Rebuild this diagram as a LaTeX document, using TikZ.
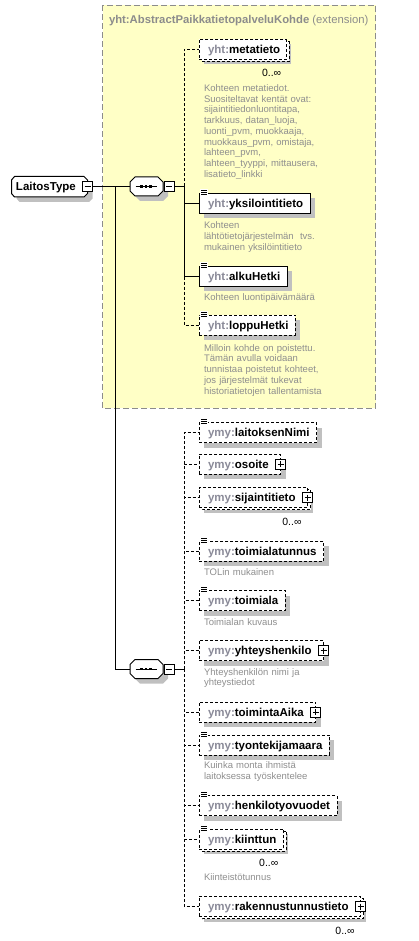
\documentclass[tikz,border=0pt]{standalone}
\usepackage{fontspec}
\setmainfont{Liberation Sans}
\usetikzlibrary{shadows}
\pgfdeclarelayer{bg}
\pgfdeclarelayer{back}
\pgfsetlayers{bg,back,main}
\definecolor{pre}{HTML}{8A8A98}
\definecolor{desc}{HTML}{8E8E8E}
\definecolor{ylw}{HTML}{FFFFC6}
\definecolor{ybord}{HTML}{8C8C8C}
\definecolor{shd}{HTML}{C0C0C0}
\newcommand\nmfont{\fontsize{11.5}{13}\selectfont\bfseries}
\newcommand\dsfont{\fontsize{9.5}{10.75}\selectfont}
\newcommand\elname[3]{\hspace*{9pt}{\color{pre}#1:}#2\hspace*{#3}}
\tikzset{
 every node/.style={inner sep=0pt, outer sep=0pt},
 conn/.style={line width=1pt},
 optl/.style={line width=1pt, dash pattern=on 3pt off 2pt},
 dsh/.style={dash pattern=on 3pt off 2pt},
 elem/.style={draw, line width=1pt, fill=white, minimum height=20pt, anchor=west, text height=10pt, text depth=1.8pt, font=\nmfont},
 shadowed/.style={drop shadow={shadow xshift=5pt, shadow yshift=-5pt, fill=shd, opacity=1}},
 desctext/.style={anchor=base west, text width=170pt, align=left, font=\dsfont, text=desc},
 mult/.style={anchor=base east, font=\fontsize{10.5}{12}\selectfont},
 pmbox/.style={draw, fill=white, line width=0.8pt, minimum size=10pt},
 plusbox/.style={pmbox, path picture={
   \draw[line width=0.8pt] ([xshift=2pt]path picture bounding box.west) -- ([xshift=-2pt]path picture bounding box.east);
   \draw[line width=0.8pt] ([yshift=-2pt]path picture bounding box.north) -- ([yshift=2pt]path picture bounding box.south);}},
 minusbox/.style={pmbox, path picture={
   \draw[line width=0.8pt] ([xshift=2pt]path picture bounding box.west) -- ([xshift=-2pt]path picture bounding box.east);}},
 seqbox/.style={minimum width=33pt, minimum height=19pt},
}
\newcommand\simpicon[1]{%
 \fill[white] ([shift={(1,-4)}]#1.north west) rectangle ([shift={(9,2)}]#1.north west);
 \foreach \dd in {-3,-1,1} {\draw[line width=0.6pt] ([shift={(2,\dd)}]#1.north west) -- ([shift={(8,\dd)}]#1.north west);}
}
\newcommand\multiback[1]{%
 \begin{pgfonlayer}{back}
 \fill[shd] ([shift={(5,5)}]#1.north west) rectangle ([shift={(5,5)}]#1.south east);
 \draw[line width=1pt, dsh, fill=white] ([shift={(3,2)}]#1.north west) rectangle ([shift={(3,2)}]#1.south east);
 \end{pgfonlayer}
}
\newcommand\seqshape[1]{%
 \filldraw[fill=white, line width=1pt, shadowed] ([shift={(5,0)}]#1.north west) -- ([shift={(-5,0)}]#1.north east) -- ([shift={(0,5)}]#1.north east) -- ([shift={(0,-5)}]#1.south east) -- ([shift={(-5,0)}]#1.south east) -- ([shift={(5,0)}]#1.south west) -- ([shift={(0,-5)}]#1.south west) -- ([shift={(0,5)}]#1.north west) -- cycle;
 \draw[line width=1pt] ([shift={(-11,0)}]#1.center) -- ([shift={(10,0)}]#1.center);
 \foreach \dd in {-4.8,-0.5,3.8} {\fill ([shift={(\dd-1.4,-1.4)}]#1.center) rectangle ([shift={(\dd+1.4,1.4)}]#1.center);}
}
\begin{document}
\begin{tikzpicture}[x=1pt,y=-1pt]
\useasboundingbox (0,0) rectangle (418,941);
\begin{pgfonlayer}{bg}
\draw[fill=ylw, draw=ybord, line width=1pt, dash pattern=on 6pt off 3pt] (102.5,5.5) rectangle (375.5,408);
\end{pgfonlayer}
\node[anchor=base west, font=\fontsize{11.3}{13}\selectfont, text=ybord] (title) at (109,23.3) {\textbf{yht:AbstractPaikkatietopalveluKohde} (extension)};

% root
\filldraw[fill=white, line width=1pt, shadowed] (14.5,176.5) -- (84,176.5) -- (87.5,180) -- (87.5,193.5) -- (84,197) -- (14.5,197) -- (11.5,193.5) -- (11.5,180) -- cycle;
\node[anchor=base west, font=\nmfont] (lt) at (16,190.5) {LaitosType};
\node[minusbox] (ltm) at (87.5,186.5) {};

% sequences
\node[seqbox] (seq1) at (146.5,186.5) {};
\seqshape{seq1}
\node[minusbox] (s1m) at (169.3,186.5) {};
\node[seqbox] (seq2) at (146.5,669) {};
\seqshape{seq2}
\node[minusbox] (s2m) at (169.3,669) {};
\coordinate (j1) at (115,186.5);
\coordinate (b1) at (184,186.5);
\coordinate (b2) at (184,669);

% extension elements
\node[elem,dsh] (metatieto) at (199,49.5) {\elname{yht}{metatieto}{6pt}};
\multiback{metatieto}
\node[mult] (m1) at ([shift={(-5,17)}]metatieto.south east) {0..∞};
\node[desctext] (d1) at (204,91.5) {Kohteen metatiedot.\\ Suositeltavat kentät ovat:\\ sijaintitiedonluontitapa,\\ tarkkuus, datan\_luoja,\\ luonti\_pvm, muokkaaja,\\ muokkaus\_pvm, omistaja,\\ lahteen\_pvm,\\ lahteen\_tyyppi, mittausera,\\ lisatieto\_linkki};

\node[elem,shadowed] (yksilointitieto) at (199,203.3) {\elname{yht}{yksilointitieto}{7pt}};
\simpicon{yksilointitieto}
\node[desctext] (d2) at (204,229) {Kohteen\\ lähtötietojärjestelmän~ tvs.\\ mukainen yksilöintitieto};

\node[elem,shadowed] (alkuHetki) at (199,276) {\elname{yht}{alkuHetki}{7pt}};
\simpicon{alkuHetki}
\node[desctext] (d3) at (204,300) {Kohteen luontipäivämäärä};

\node[elem,dsh,shadowed] (loppuHetki) at (199,325) {\elname{yht}{loppuHetki}{7pt}};
\simpicon{loppuHetki}
\node[desctext] (d4) at (204,351) {Milloin kohde on poistettu.\\ Tämän avulla voidaan\\ tunnistaa poistetut kohteet,\\ jos järjestelmät tukevat\\ historiatietojen tallentamista};

% own elements
\node[elem,dsh,shadowed] (laitoksenNimi) at (199,432.5) {\elname{ymy}{laitoksenNimi}{7pt}};
\simpicon{laitoksenNimi}

\node[elem,dsh,shadowed] (osoite) at (199,464) {\elname{ymy}{osoite}{12pt}};
\node[plusbox] (osoiteP) at (osoite.east) {};

\node[elem,dsh] (sijaintitieto) at (199,497.5) {\elname{ymy}{sijaintitieto}{12pt}};
\multiback{sijaintitieto}
\node[plusbox] (sijaintitietoP) at (sijaintitieto.east) {};
\node[mult] (m2) at ([shift={(-6,18)}]sijaintitieto.south east) {0..∞};

\node[elem,dsh,shadowed] (toimialatunnus) at (199,551) {\elname{ymy}{toimialatunnus}{7pt}};
\simpicon{toimialatunnus}
\node[desctext] (d5) at (204,575) {TOLin mukainen};

\node[elem,dsh,shadowed] (toimiala) at (199,600.7) {\elname{ymy}{toimiala}{7pt}};
\simpicon{toimiala}
\node[desctext] (d6) at (204,625) {Toimialan kuvaus};

\node[elem,dsh,shadowed] (yhteyshenkilo) at (199,650.5) {\elname{ymy}{yhteyshenkilo}{12pt}};
\node[plusbox] (yhteyshenkiloP) at (yhteyshenkilo.east) {};
\node[desctext] (d7) at (204,675) {Yhteyshenkilön nimi ja\\ yhteystiedot};

\node[elem,dsh,shadowed] (toimintaAika) at (199,712) {\elname{ymy}{toimintaAika}{12pt}};
\node[plusbox] (toimintaAikaP) at (toimintaAika.east) {};

\node[elem,dsh,shadowed] (tyontekijamaara) at (199,745) {\elname{ymy}{tyontekijamaara}{7pt}};
\simpicon{tyontekijamaara}
\node[desctext] (d8) at (204,768.5) {Kuinka monta ihmistä\\ laitoksessa työskentelee};

\node[elem,dsh,shadowed] (henkilotyovuodet) at (199,805.5) {\elname{ymy}{henkilotyovuodet}{7pt}};
\simpicon{henkilotyovuodet}

\node[elem,dsh] (kiinttun) at (199,839) {\elname{ymy}{kiinttun}{7pt}};
\multiback{kiinttun}
\simpicon{kiinttun}
\node[mult] (m3) at ([shift={(-5,17)}]kiinttun.south east) {0..∞};
\node[desctext] (d9) at (204,880) {Kiinteistötunnus};

\node[elem,dsh] (rakennustunnustieto) at (199,906.5) {\elname{ymy}{rakennustunnustieto}{12pt}};
\multiback{rakennustunnustieto}
\node[plusbox] (rakennustunnustietoP) at (rakennustunnustieto.east) {};
\node[mult] (m4) at ([shift={(-6,18)}]rakennustunnustieto.south east) {0..∞};

% connectors
\draw[conn] (ltm.east) -- (seq1.west);
\draw[conn] (j1) |- (seq2.west);
\draw[conn] (s1m.east) -- (b1);
\draw[optl] (b1) |- (metatieto.west);
\draw[conn] (b1) |- (yksilointitieto.west);
\draw[conn] (b1) |- (alkuHetki.west);
\draw[optl] (b1) |- (loppuHetki.west);
\draw[conn] (s2m.east) -- (b2);
\foreach \el in {laitoksenNimi,osoite,sijaintitieto,toimialatunnus,toimiala,yhteyshenkilo,toimintaAika,tyontekijamaara,henkilotyovuodet,kiinttun,rakennustunnustieto}
 {\draw[optl] (b2) |- (\el.west);}
\end{tikzpicture}
\end{document}
